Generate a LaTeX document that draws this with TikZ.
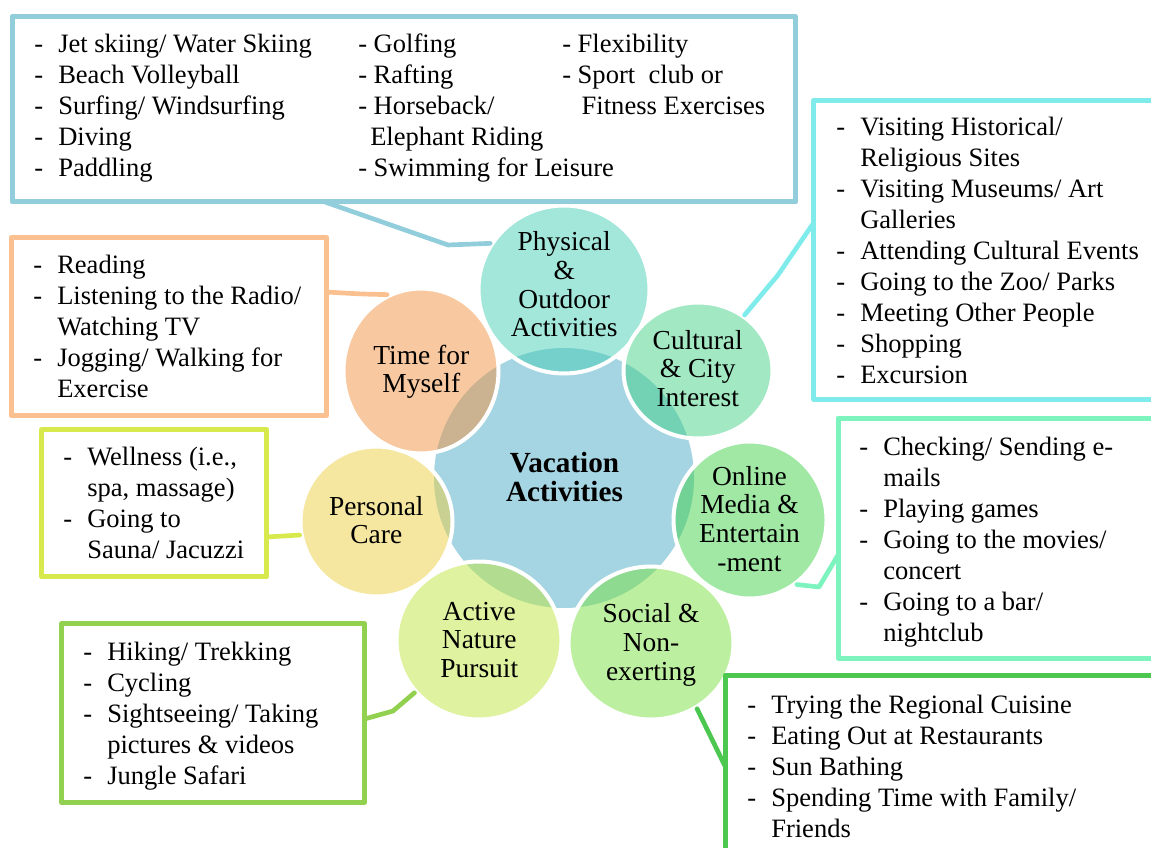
\documentclass[tikz,border=0pt]{standalone}
\usepackage{fontspec}
\setmainfont{Liberation Serif}
\usetikzlibrary{shapes.geometric}

% hub and satellite fills (satellites are drawn half transparent)
\definecolor{hub}{RGB}{165,213,226}
\definecolor{physfill}{RGB}{71,205,181}
\definecolor{cultfill}{RGB}{67,209,135}
\definecolor{onlinefill}{RGB}{65,209,73}
\definecolor{socialfill}{RGB}{123,223,65}
\definecolor{activefill}{RGB}{191,229,63}
\definecolor{persfill}{RGB}{235,207,65}
\definecolor{timefill}{RGB}{241,147,65}
% frame and link colours
\definecolor{physline}{RGB}{146,205,220}
\definecolor{cultline}{RGB}{128,235,235}
\definecolor{onlineline}{RGB}{125,243,190}
\definecolor{socialline}{RGB}{76,199,80}
\definecolor{activeline}{RGB}{146,208,80}
\definecolor{persline}{RGB}{216,233,78}
\definecolor{timeline}{RGB}{250,192,144}

% list helpers: dash column + text column
\newcommand{\itm}{\makebox[18pt][l]{-}}
\newcommand{\lst}[1]{\begin{tabular}[t]{@{}l@{}l@{}}#1\end{tabular}}
\newcommand{\col}[1]{\begin{tabular}[t]{@{}l@{}}#1\end{tabular}}
\newcommand{\stk}[1]{\begin{tabular}[t]{@{}c@{}}#1\end{tabular}}

\tikzset{
  hubnode/.style={circle, fill=hub, minimum size=195pt, inner sep=0},
  sat/.style={ellipse, fill=#1, fill opacity=0.5, draw=white, line width=3pt, inner sep=0},
  lbl/.style={anchor=base, inner sep=0, font=\fontsize{20.6}{21.5}\selectfont},
  hublbl/.style={anchor=base, inner sep=0, font=\bfseries\fontsize{21.9}{21.75}\selectfont},
  listbox/.style={rectangle, draw=#1, line width=3.75pt, fill=white, line join=round, inner sep=0},
  items/.style={anchor=base west, inner sep=0, font=\fontsize{19.9}{23.25}\selectfont},
  link/.style={draw=#1, line width=3.5pt, line join=round, line cap=round},
}

\begin{document}
\begin{tikzpicture}[x=0.75pt, y=-0.75pt]
\path[use as bounding box] (0,0) rectangle (1151,848);
\clip (0,0) rectangle (1151,848);

% central hub
\node[hubnode] (hub) at (564,478) {};

% satellite circles
\node[sat=physfill,   minimum width=128.25pt, minimum height=126pt]    (phys)   at (564,289.5) {};
\node[sat=cultfill,   minimum width=111.75pt, minimum height=102pt]    (cult)   at (698,370.5) {};
\node[sat=onlinefill, minimum width=114.75pt, minimum height=117.75pt] (online) at (750,520) {};
\node[sat=socialfill, minimum width=123.75pt, minimum height=114.75pt] (social) at (651,643) {};
\node[sat=activefill, minimum width=123.75pt, minimum height=118.5pt]  (active) at (479,640.5) {};
\node[sat=persfill,   minimum width=114pt,    minimum height=112.5pt]  (pers)   at (376.5,521.5) {};
\node[sat=timefill,   minimum width=116.25pt, minimum height=123.75pt] (time)   at (421,371) {};

% labels
\node[hublbl] (hubtxt) at (564.5,472.7) {\stk{Vacation\\Activities}};
\node[lbl] (physlbl)   at (564.2,250.7) {\stk{Physical\\\&\\Outdoor\\Activities}};
\node[lbl] (cultlbl)   at (697.7,349.3) {\stk{Cultural\\\& City\\Interest}};
\node[lbl] (onlinelbl) at (749.5,485)   {\stk{Online\\Media \&\\Entertain\\-ment}};
\node[lbl] (sociallbl) at (651,622.7)   {\stk{Social \&\\Non-\\exerting}};
\node[lbl] (activelbl) at (479.3,620)   {\stk{Active\\Nature\\Pursuit}};
\node[lbl] (perslbl)   at (376.3,515)   {\stk{Personal\\Care}};
\node[lbl] (timelbl)   at (421.3,364.3) {\stk{Time for\\Myself}};

% list frames
\node[listbox=physline,   minimum width=587.6pt, minimum height=139.1pt] (physbox)   at (403.75,109.25) {};
\node[listbox=cultline,   minimum width=267.4pt, minimum height=223.9pt] (cultbox)   at (991.75,249.75) {};
\node[listbox=onlineline, minimum width=249pt,   minimum height=180pt]   (onlinebox) at (1004,538) {};
\node[listbox=socialline, minimum width=333.4pt, minimum height=146.25pt] (socialbox) at (947.75,772.5) {};
\node[listbox=timeline,   minimum width=236.6pt, minimum height=133.5pt] (timebox)   at (168.75,326.5) {};
\node[listbox=persline,   minimum width=168.45pt, minimum height=110.3pt] (persbox)  at (154,503.25) {};
\node[listbox=activeline, minimum width=227.1pt, minimum height=134pt]   (activebox) at (213.1,713.15) {};

% link ends on the frames
\coordinate (physend)   at (325,202);
\coordinate (cultend)   at (813.5,223);
\coordinate (onlineend) at (838,555);
\coordinate (socialend) at (725.5,767);
\coordinate (activeend) at (364.5,719);
\coordinate (persend)   at (266.3,537);
\coordinate (timeend)   at (326.5,292);

% links
\draw[link=physline]   (physend) -- (448,245) -- (phys.148);
\draw[link=cultline]   (cultend) -- (778,275) -- (cult.50);
\draw[link=onlineline] (onlineend) -- (819,587) -- (online.-54);
\draw[link=socialline] (socialend) -- (social.-55);
\draw[link=activeline] (activeend) -- (393,711) -- (active.219);
\draw[link=persline]   (persend) -- (pers.190);
\draw[link=timeline]   (timeend) .. controls (360,294) .. (time.114);

% lists
\node[items] (physA) at (34,53) {\lst{%
  \itm & Jet skiing/ Water Skiing\\
  \itm & Beach Volleyball\\
  \itm & Surfing/ Windsurfing\\
  \itm & Diving\\
  \itm & Paddling}};
\node[items] (physB) at (358,53) {\col{%
  - Golfing\\
  - Rafting\\
  - Horseback/\\
  \hspace*{9pt}Elephant Riding\\
  - Swimming for Leisure}};
\node[items] (physC) at (562,53) {\col{%
  - Flexibility\\
  - Sport\ \ club or\\
  \hspace*{14.6pt}Fitness Exercises}};

\node[items] (cultlist) at (836,135.5) {\lst{%
  \itm & Visiting Historical/\\
       & Religious Sites\\
  \itm & Visiting Museums/ Art\\
       & Galleries\\
  \itm & Attending Cultural Events\\
  \itm & Going to the Zoo/ Parks\\
  \itm & Meeting Other People\\
  \itm & Shopping\\
  \itm & Excursion}};

\node[items] (timelist) at (33,274) {\lst{%
  \itm & Reading\\
  \itm & Listening to the Radio/\\
       & Watching TV\\
  \itm & Jogging/ Walking for\\
       & Exercise}};

\node[items] (perslist) at (63,465) {\lst{%
  \itm & Wellness (i.e.,\\
       & spa, massage)\\
  \itm & Going to\\
       & Sauna/ Jacuzzi}};

\node[items] (activelist) at (83,660) {\lst{%
  \itm & Hiking/ Trekking\\
  \itm & Cycling\\
  \itm & Sightseeing/ Taking\\
       & pictures \& videos\\
  \itm & Jungle Safari}};

\node[items] (onlinelist) at (859,455) {\lst{%
  \itm & Checking/ Sending e-\\
       & mails\\
  \itm & Playing games\\
  \itm & Going to the movies/\\
       & concert\\
  \itm & Going to a bar/\\
       & nightclub}};

\node[items] (sociallist) at (747,713) {\lst{%
  \itm & Trying the Regional Cuisine\\
  \itm & Eating Out at Restaurants\\
  \itm & Sun Bathing\\
  \itm & Spending Time with Family/\\
       & Friends}};
\end{tikzpicture}
\end{document}
